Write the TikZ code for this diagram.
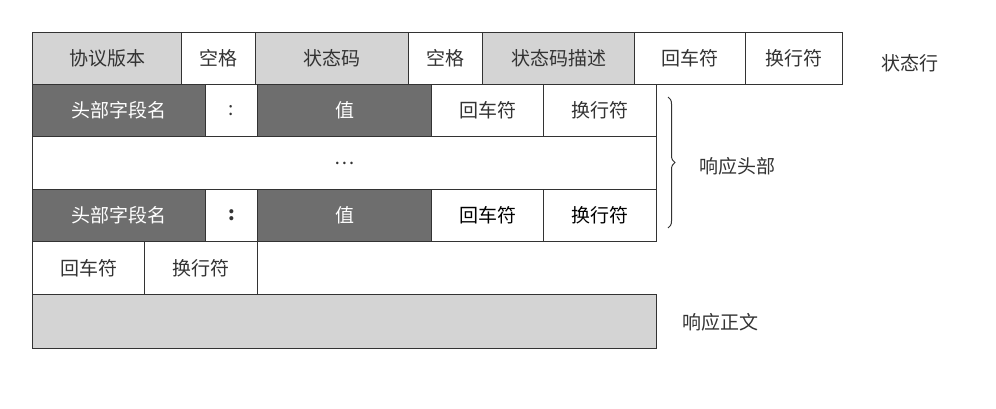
\documentclass[tikz,border=0pt]{standalone}
\usepackage{fontspec}
\setmainfont{Noto Sans CJK SC}
\usetikzlibrary{decorations.pathreplacing}
\definecolor{lg}{HTML}{D4D4D4}
\definecolor{dg}{HTML}{6E6E6E}
\definecolor{tx}{HTML}{333333}
\tikzset{cell/.style={draw=black!80,line width=1pt,anchor=north west,inner sep=0pt,font=\fontsize{19}{19}\selectfont,text=tx},
 light/.style={cell,fill=lg}, dark/.style={cell,fill=dg,text=white}, white/.style={cell,fill=white},
 lbl/.style={font=\fontsize{19}{19}\selectfont,text=tx}}
\newcommand\mycell[7]{\node[#6,minimum width={(#3-#2)*1pt},minimum height={(#5-#4)*1pt}] (#1) at (#2,#4) {#7};}
\begin{document}
\begin{tikzpicture}[x=1pt,y=-1pt]
\useasboundingbox[fill=white] (0,0) rectangle (996,408);
\mycell{a1}{32}{181}{32}{84}{light}{协议版本}
\mycell{a2}{181}{255}{32}{84}{white}{空格}
\mycell{a3}{255}{408}{32}{84}{light}{状态码}
\mycell{a4}{408}{482}{32}{84}{white}{空格}
\mycell{a5}{482}{634}{32}{84}{light}{状态码描述}
\mycell{a6}{634}{745}{32}{84}{white}{回车符}
\mycell{a7}{745}{842}{32}{84}{white}{换行符}
\node[lbl] (l1) at (910,63) {状态行};
\mycell{b1}{32}{205}{84}{136}{dark}{头部字段名}
\mycell{b2}{205}{257}{84}{136}{white}{:}
\mycell{b3}{257}{431}{84}{136}{dark}{值}
\mycell{b4}{431}{543}{84}{136}{white}{回车符}
\mycell{b5}{543}{656}{84}{136}{white}{换行符}
\mycell{c1}{32}{656}{136}{189}{white}{…}
\mycell{d1}{32}{205}{189}{241}{dark}{头部字段名}
\mycell{d2}{205}{257}{189}{241}{white}{\textbf{:}}
\mycell{d3}{257}{431}{189}{241}{dark}{值}
\mycell{d4}{431}{543}{189}{241}{white}{\textcolor{black}{回车符}}
\mycell{d5}{543}{656}{189}{241}{white}{\textcolor{black}{换行符}}
\mycell{e1}{32}{144}{241}{294}{white}{回车符}
\mycell{e2}{144}{257}{241}{294}{white}{换行符}
\mycell{f1}{32}{656}{294}{348}{light}{}
\coordinate (bt) at (668,97);
\coordinate (bb) at (668,228);
\draw[tx,line width=1pt,decorate,decoration={brace,amplitude=7pt}] (bt) -- (bb);
\node[lbl] (l2) at (737,166) {响应头部};
\node[lbl] (l3) at (720,322) {响应正文};
\end{tikzpicture}
\end{document}
